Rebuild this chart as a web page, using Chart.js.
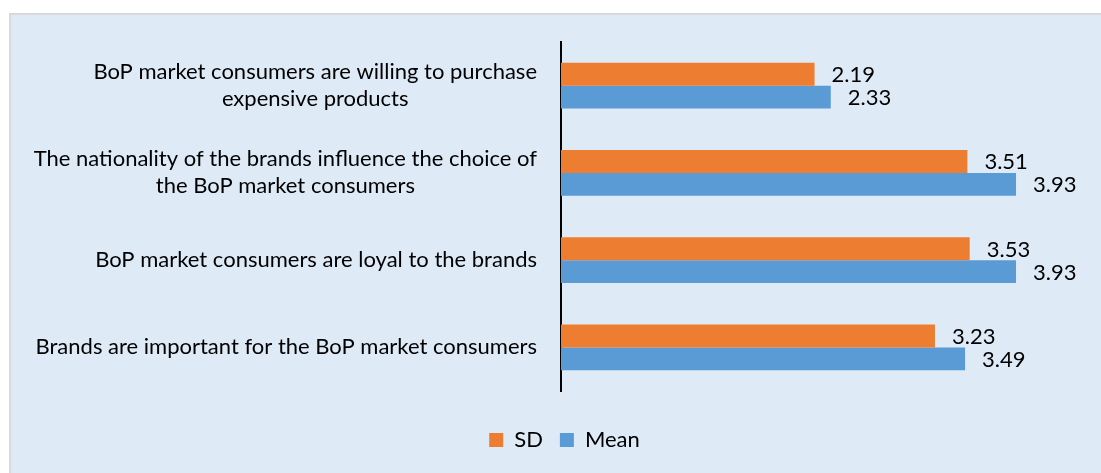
<!DOCTYPE html>
<html lang="en">
  <head>
    <meta charset="UTF-8" />
    <title>BoP brands</title>
    <script src="https://cdn.jsdelivr.net/npm/chart.js"></script>
    <style>
      body {
        margin: 0;
        background: #fff;
      }
      .frame {
        position: absolute;
        left: 9px;
        top: 13px;
        right: 0;
        bottom: 0;
        border-left: 2px solid #d9d9d9;
        border-top: 2px solid #d9d9d9;
        background: #deeaf6;
      }
    </style>
  </head>
  <body>
    <div class="frame">
      <canvas id="myChart" width="1090" height="458"></canvas>
    </div>
    <script>
      const FONT = "Lato, 'Open Sans', sans-serif";
      const FONT_SIZE = 22;

      // statements, top to bottom (multi-line labels as arrays)
      const statements = [
        ["BoP market consumers are willing to purchase", "expensive products"],
        ["The nationality of the brands influence the choice of", "the BoP market consumers"],
        ["BoP market consumers are loyal to the brands"],
        ["Brands are important for the BoP market consumers"],
      ];
      const sdValues = [2.19, 3.51, 3.53, 3.23];
      const meanValues = [2.33, 3.93, 3.93, 3.49];
      const seriesNames = ["SD", "Mean"];
      const seriesColors = ["#ed7d31", "#5b9bd5"];

      // category labels: right-aligned block, lines centred inside the block
      const statementLabels = {
        id: "statementLabels",
        afterDraw(chart) {
          const ctx = chart.ctx;
          const y = chart.scales.y;
          ctx.save();
          ctx.font = FONT_SIZE + "px " + FONT;
          ctx.fillStyle = "#000";
          ctx.textBaseline = "middle";
          ctx.textAlign = "center";
          const right = y.right - 24;
          const lineH = 27;
          statements.forEach((lines, i) => {
            const cy = y.getPixelForTick(i);
            const w = Math.max(...lines.map((l) => ctx.measureText(l).width));
            const cx = right - w / 2;
            const y0 = cy - ((lines.length - 1) * lineH) / 2;
            lines.forEach((l, k) => ctx.fillText(l, cx, y0 + k * lineH));
          });
          ctx.restore();
        },
      };

      // value labels just past the end of each bar
      const valueLabels = {
        id: "valueLabels",
        afterDatasetsDraw(chart) {
          const ctx = chart.ctx;
          ctx.save();
          ctx.font = FONT_SIZE + "px " + FONT;
          ctx.fillStyle = "#000";
          ctx.textBaseline = "middle";
          ctx.textAlign = "left";
          chart.data.datasets.forEach((ds, d) => {
            chart.getDatasetMeta(d).data.forEach((bar, i) => {
              ctx.fillText(ds.data[i].toFixed(2), bar.x + 17, bar.y + 1);
            });
          });
          ctx.restore();
        },
      };

      const ctx = document.getElementById("myChart").getContext("2d");
      const myChart = new Chart(ctx, {
        type: "bar",
        data: {
          labels: statements,
          datasets: [
            {
              label: seriesNames[0],
              data: sdValues,
              backgroundColor: seriesColors[0],
            },
            {
              label: seriesNames[1],
              data: meanValues,
              backgroundColor: seriesColors[1],
            },
          ],
        },
        options: {
          indexAxis: "y",
          responsive: false,
          animation: false,
          categoryPercentage: 0.527,
          barPercentage: 1,
          layout: { padding: { left: 36, top: 27, right: 19, bottom: 12 } },
          scales: {
            x: {
              min: 0,
              max: 4.5,
              grid: { display: false },
              border: { display: false },
              ticks: { display: false },
              afterFit: (s) => {
                s.height = 21;
              },
            },
            y: {
              grid: { display: false },
              border: { color: "#000", width: 2 },
              ticks: { display: false },
              afterFit: (s) => {
                s.width = 514;
              },
            },
          },
          plugins: {
            tooltip: { enabled: false },
            legend: {
              position: "bottom",
              labels: {
                boxWidth: 14,
                boxHeight: 14,
                padding: 17,
                color: "#000",
                font: { family: FONT, size: FONT_SIZE },
              },
            },
          },
        },
        plugins: [statementLabels, valueLabels],
      });
    </script>
  </body>
</html>
